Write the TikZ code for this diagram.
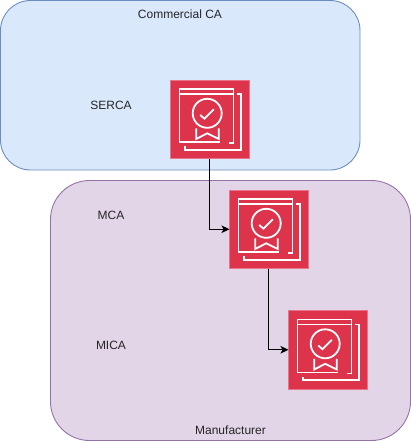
\documentclass[tikz,border=0pt]{standalone}
\usepackage{fontspec}
\setmainfont{Liberation Sans}
\usetikzlibrary{arrows.meta}
\definecolor{blueFill}{HTML}{DAE8FC}
\definecolor{blueLine}{HTML}{6C8EBF}
\definecolor{purpleFill}{HTML}{E1D5E7}
\definecolor{purpleLine}{HTML}{9673A6}
\definecolor{certRed}{HTML}{DD344C}
\definecolor{certEdge}{HTML}{E8748A}
\tikzset{
  x=1pt,y=-1pt,
  zone/.style={draw,line width=0.9pt,rounded corners=#1},
  certbox/.style={draw=certEdge,fill=certRed,line width=0.9pt,minimum size=78.5pt,inner sep=0pt,outer sep=0pt,anchor=north west},
  lab/.style={font=\fontsize{12}{14}\selectfont,text=black!85,inner sep=0pt},
  link/.style={draw=black,line width=0.9pt,-{Stealth[length=8pt,width=7.5pt,inset=2pt]}},
  glyph/.style={draw=white,line width=1.8pt,fill=none}
}
\newcommand{\certart}[1]{%
  \begin{scope}[shift={(#1.north west)},x=1pt,y=-1pt]
    \draw[glyph] (49,62) -- (9,62) -- (9,9) -- (63,9) -- (63,63) -- (58,63);
    \draw[glyph] (9,14) -- (63,14);
    \draw[glyph] (66,14) -- (70.3,14) -- (70.3,69.7) -- (14.5,69.7) -- (14.5,66);
    \draw[glyph] (14.5,69.7) -- (53,69.7);
    \draw[glyph] (36.7,33.3) circle[radius=14.5];
    \draw[glyph] (29.7,35) -- (34,38.7) -- (43.3,29.3);
    \draw[glyph] (25.7,48.3) -- (25.7,59) -- (36.7,53.3) -- (48.3,59) -- (48.3,48.3);
  \end{scope}}
\begin{document}
\begin{tikzpicture}
  \useasboundingbox (0,0) rectangle (411,441);
  \path[zone=30pt,draw=blueLine,fill=blueFill] (0.5,0.5) rectangle (360,170);
  \path[zone=39pt,draw=purpleLine,fill=purpleFill] (50.5,180.5) rectangle (410.5,440.5);
  \node[certbox] (serca) at (170.5,80) {};
  \node[certbox] (mca) at (229.5,190) {};
  \node[certbox] (mica) at (288.5,310.5) {};
  \certart{serca}
  \certart{mca}
  \certart{mica}
  \draw[link] (serca.south) |- (mca.west);
  \draw[link] (mca.south) |- (mica.west);
  \node[lab] (lca) at (180,14) {Commercial CA};
  \node[lab] (lman) at (230.5,430.5) {Manufacturer};
  \node[lab] (lserca) at (111,105) {SERCA};
  \node[lab] (lmca) at (111,215.5) {MCA};
  \node[lab] (lmica) at (111,345) {MICA};
\end{tikzpicture}
\end{document}
